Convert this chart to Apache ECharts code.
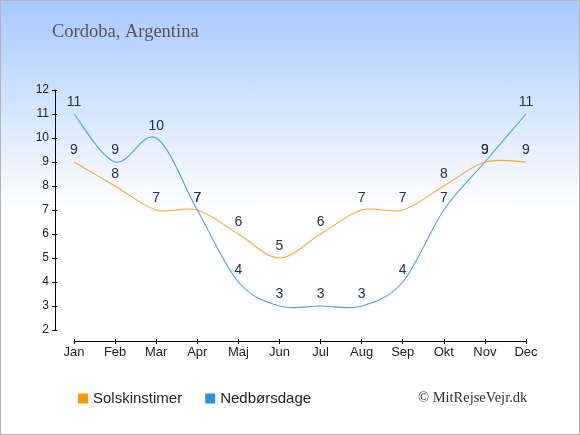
<!DOCTYPE html>
<html>
<head>
<meta charset="utf-8">
<script src="https://cdn.jsdelivr.net/npm/echarts@6/dist/echarts.min.js"></script>
<style>
html,body{margin:0;padding:0;}
#wrap{width:578px;height:433px;border:1px solid #b4b4b4;background:linear-gradient(to bottom,#a8c8ff 0%,#ffffff 48%,#ffffff 100%);}
#chart{width:578px;height:433px;}
</style>
</head>
<body>
<div id="wrap"><div id="chart"></div></div>
<script>
const months=['Jan','Feb','Mar','Apr','Maj','Jun','Jul','Aug','Sep','Okt','Nov','Dec'];
const solskin=[9,8,7,7,6,5,6,7,7,8,9,9];
const nedbor=[11,9,10,7,4,3,3,3,4,7,9,11];
const yTicks={min:2,max:12,interval:1};

const FONT='Liberation Sans, Arial, sans-serif';
const chart=echarts.init(document.getElementById('chart'));
const labelStyle={show:true,position:'top',distance:5,color:'#25304d',fontSize:14,fontFamily:FONT};

// catmull-rom curve through the points, drawn as bezier path
function curveSeries(arr,color){
    return {
        type:'custom',
        data:arr.map((v,i)=>[i,v]),
        silent:true,
        z:2,
        renderItem:function(params,api){
            if(params.dataIndex!==0) return null;
            const p=arr.map((v,i)=>api.coord([i,v]));
            let d='M'+p[0][0]+' '+p[0][1];
            for(let i=0;i<p.length-1;i++){
                const p0=p[Math.max(i-1,0)],p1=p[i],p2=p[i+1],p3=p[Math.min(i+2,p.length-1)];
                const c1=[p1[0]+(p2[0]-p0[0])/6,p1[1]+(p2[1]-p0[1])/6];
                const c2=[p2[0]-(p3[0]-p1[0])/6,p2[1]-(p3[1]-p1[1])/6];
                d+=' C'+c1[0]+' '+c1[1]+' '+c2[0]+' '+c2[1]+' '+p2[0]+' '+p2[1];
            }
            return {type:'path',shape:{pathData:d},style:{fill:'none',stroke:color,lineWidth:1.1}};
        }
    };
}

chart.setOption({
    backgroundColor:'transparent',
    animation:false,
    grid:{left:73,right:53,top:89,bottom:104},
    xAxis:[{
        type:'category',data:months,boundaryGap:false,offset:11,
        axisLine:{lineStyle:{color:'#000',width:1}},
        axisTick:{show:true,alignWithLabel:true,length:3,lineStyle:{color:'#000'}},
        axisLabel:{color:'#222',fontSize:13,margin:5,fontFamily:FONT},
        splitLine:{show:false}
    },{
        type:'category',data:months,boundaryGap:false,offset:11,position:'bottom',
        axisLine:{show:false},
        axisTick:{show:true,inside:true,length:2,lineStyle:{color:'#000'}},
        axisLabel:{show:false},splitLine:{show:false}
    }],
    yAxis:[{
        type:'value',min:yTicks.min,max:yTicks.max,interval:yTicks.interval,offset:19,
        axisLine:{show:true,lineStyle:{color:'#000',width:1}},
        axisTick:{show:true,length:3,lineStyle:{color:'#000'}},
        axisLabel:{color:'#222',fontSize:12,margin:6,fontFamily:FONT},
        splitLine:{show:false}
    },{
        type:'value',min:yTicks.min,max:yTicks.max,interval:yTicks.interval,offset:19,position:'left',
        axisLine:{show:false},
        axisTick:{show:true,inside:true,length:2,lineStyle:{color:'#000'}},
        axisLabel:{show:false},splitLine:{show:false}
    }],
    legend:{
        left:77,top:390,padding:0,itemWidth:10,itemHeight:10,itemGap:23,icon:'rect',
        textStyle:{color:'#222',fontSize:15,fontFamily:FONT},
        data:[
            {name:'Solskinstimer',itemStyle:{color:'#ff9a00',opacity:1}},
            {name:'Nedbørsdage',itemStyle:{color:'#2f8fe4',opacity:1}}
        ]
    },
    graphic:[
        {type:'text',left:51,top:22,style:{text:'Cordoba, Argentina',fill:'#555',font:'18.5px "Liberation Serif", Georgia, serif'}},
        {type:'text',left:417,top:390,style:{text:'© MitRejseVejr.dk',fill:'#333',font:'14.5px "Liberation Serif", Georgia, serif'}}
    ],
    series:[
        curveSeries(solskin,'#ffa52a'),
        curveSeries(nedbor,'#4ba3ea'),
        {
            name:'Solskinstimer',type:'line',data:solskin,
            symbol:'circle',symbolSize:0,
            lineStyle:{width:0,opacity:0},
            itemStyle:{color:'#ffa52a'},
            label:labelStyle
        },
        {
            name:'Nedbørsdage',type:'line',data:nedbor,
            symbol:'circle',symbolSize:0,
            lineStyle:{width:0,opacity:0},
            itemStyle:{color:'#4ba3ea'},
            label:labelStyle
        }
    ]
});
</script>
</body>
</html>
